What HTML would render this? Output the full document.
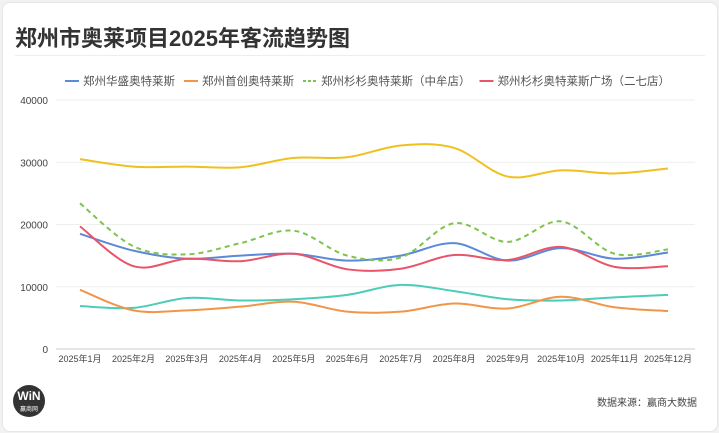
<!DOCTYPE html>
<html><head><meta charset="utf-8"><style>
body{margin:0;width:719px;height:433px;background:#f2f2f2;font-family:"Liberation Sans","Noto Sans CJK SC",sans-serif;overflow:hidden}
#card{position:absolute;left:2px;top:2px;width:714px;height:428px;background:#fff;border-radius:8px;border:1px solid #e6e6e6}
#title{position:absolute;left:12px;top:18px;font-size:22px;font-weight:bold;color:#333;margin:0}
#div{position:absolute;left:12px;right:12px;top:52px;border-top:1px solid #eee}
</style></head><body>
<div id="card">
<h1 id="title">郑州市奥莱项目2025年客流趋势图</h1>
<div id="div"></div>
</div>
<svg id="chart" width="719" height="433" style="position:absolute;left:0;top:0"></svg>
<script>
const months=["2025年1月","2025年2月","2025年3月","2025年4月","2025年5月","2025年6月","2025年7月","2025年8月","2025年9月","2025年10月","2025年11月","2025年12月"];
const yTicks=[0,10000,20000,30000,40000];
const huasheng=[18500,15800,14500,15000,15300,14200,15000,17000,14200,16200,14500,15500];
const shouchuang=[9500,6200,6200,6800,7600,6000,6000,7300,6500,8400,6700,6100];
const shanshanZM=[23400,16500,15200,17000,19000,15000,14700,20200,17200,20500,15300,16000];
const shanshanEQ=[19700,13300,14500,14100,15300,12800,12900,15100,14300,16400,13200,13300];
const yellowSeries=[30500,29300,29300,29200,30700,30800,32700,32300,27700,28700,28200,29000];
const tealSeries=[6900,6600,8200,7800,8000,8700,10300,9300,8000,7800,8300,8700];
const series=[
 {name:"郑州华盛奥特莱斯",data:huasheng,color:"#5b8ad6",dash:null,legend:true},
 {name:"郑州首创奥特莱斯",data:shouchuang,color:"#f0954a",dash:null,legend:true},
 {name:"郑州杉杉奥特莱斯（中牟店）",data:shanshanZM,color:"#7ec34f",dash:"5,4",legend:true},
 {name:"郑州杉杉奥特莱斯广场（二七店）",data:shanshanEQ,color:"#e8556a",dash:null,legend:true},
 {name:"yellow",data:yellowSeries,color:"#f0c020",dash:null,legend:false},
 {name:"teal",data:tealSeries,color:"#4ccdb8",dash:null,legend:false}
];
const NS="http://www.w3.org/2000/svg",svg=document.getElementById('chart');
const x0=80,dx=(668-80)/11,yb=349,yt=100,ymax=40000;
const X=i=>x0+i*dx,Y=v=>yb-(v/ymax)*(yb-yt);
function mk(t,a){const e=document.createElementNS(NS,t);for(const k in a)e.setAttribute(k,a[k]);svg.appendChild(e);return e;}
yTicks.forEach(t=>{
 const l=mk('line',{x1:56,x2:695,y1:Y(t),y2:Y(t),stroke:t?"#eee":"#ccc"});
 
 
 const tx=mk('text',{x:48,y:Y(t)+4,'text-anchor':'end','font-size':10,fill:'#444'});tx.textContent=t;
 
 
});
months.forEach((m,i)=>{
 const tx=mk('text',{x:X(i),y:362,'text-anchor':'middle','font-size':9,fill:'#444'});tx.textContent=m;
 
 
});
function path(d){const p=d.map((v,i)=>[X(i),Y(v)]);let s=`M${p[0][0]},${p[0][1]}`;
 for(let i=0;i<p.length-1;i++){const a=p[i-1]||p[i],b=p[i],c=p[i+1],e=p[i+2]||c;
 s+=`C${b[0]+(c[0]-a[0])/6},${b[1]+(c[1]-a[1])/6} ${c[0]-(e[0]-b[0])/6},${c[1]-(e[1]-b[1])/6} ${c[0]},${c[1]}`;}return s;}
[4,5,0,1,3,2].forEach(k=>{const s=series[k];
 const p=mk('path',{d:path(s.data),fill:'none',stroke:s.color,'stroke-width':2});
 if(s.dash)p.setAttribute('stroke-dasharray',s.dash);
 
 
});
let lx=65;
series.filter(s=>s.legend).forEach(s=>{
 const l=mk('line',{x1:lx,x2:lx+14,y1:81,y2:81,stroke:s.color,'stroke-width':2});
 if(s.dash)l.setAttribute('stroke-dasharray','3,2');
 
 
 const t=mk('text',{x:lx+18,y:85,'font-size':11.5,fill:'#555'});t.textContent=s.name;
 
 
 lx+=18+t.getComputedTextLength()+9;
});
const c=mk('circle',{cx:29,cy:401,r:16,fill:'#333'});


const w=mk('text',{x:29,y:400,'text-anchor':'middle','font-size':12,'font-weight':'bold',fill:'#fff'});w.textContent="WiN";


const w2=mk('text',{x:29,y:411,'text-anchor':'middle','font-size':6,fill:'#fff'});w2.textContent="赢商网";


const src=mk('text',{x:697,y:406,'text-anchor':'end','font-size':10,fill:'#444'});src.textContent="数据来源：赢商大数据";


</script>
</body></html>
